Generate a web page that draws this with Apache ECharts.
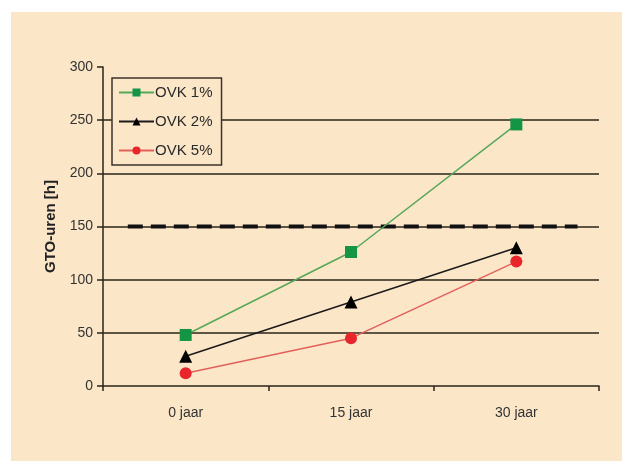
<!DOCTYPE html>
<html><head><meta charset="utf-8">
<script src="https://cdn.jsdelivr.net/npm/echarts@6/dist/echarts.min.js"></script>
<style>
html,body{margin:0;padding:0;background:#fff;}
#bg{position:absolute;left:11px;top:12px;width:611px;height:449px;background:#fce6c8;}
#c{position:absolute;left:0;top:0;width:627px;height:463px;}
</style></head>
<body><div id="bg"></div><div id="c"></div>
<script>
var categories = ['0 jaar', '15 jaar', '30 jaar'];
var ovk1 = [48, 126, 246];
var ovk2 = [28, 79, 130];
var ovk5 = [12, 45, 117];
var refX = [0.15, 2.87];
var refY = [150, 150];
var yTicks = [0, 50, 100, 150, 200, 250, 300];

var chart = echarts.init(document.getElementById('c'), null, {renderer: 'canvas'});
var dark = '#2a2419';
chart.setOption({
  backgroundColor: 'transparent',
  animation: false,
  grid: {left: 103, right: 28, top: 67, bottom: 77},
  legend: {
    orient: 'vertical', left: 112, top: 78,
    padding: [7, 9, 7, 6],
    itemWidth: 35, itemHeight: 10, itemGap: 14,
    borderColor: '#3a3328', borderWidth: 1.5,
    backgroundColor: '#fce6c8',
    textStyle: {fontFamily: 'Liberation Sans, Arial', fontSize: 15, color: '#2a2a2a', padding: [0,0,0,-4]},
    data: ['OVK 1%', 'OVK 2%', 'OVK 5%']
  },
  xAxis: [{
    type: 'category', data: categories, boundaryGap: true,
    axisLine: {lineStyle: {color: dark, width: 1.5}},
    axisTick: {show: true, length: 5, lineStyle: {color: dark, width: 1.5}},
    axisLabel: {fontFamily: 'Liberation Sans, Arial', fontSize: 14, color: '#333', margin: 20}
  }, {
    type: 'value', min: 0, max: 3, show: false
  }],
  yAxis: {
    type: 'value', min: 0, max: 300, interval: 50,
    name: 'GTO-uren [h]', nameLocation: 'middle', nameGap: 45,
    nameTextStyle: {fontFamily: 'Liberation Sans, Arial', fontWeight: 'bold', fontSize: 15, color: '#222'},
    axisLine: {show: true, lineStyle: {color: dark, width: 1.5}},
    axisTick: {show: true, length: 6, lineStyle: {color: dark, width: 1.5}},
    axisLabel: {fontFamily: 'Liberation Sans, Arial', fontSize: 14, color: '#333', margin: 10,
      formatter: function(v){ return yTicks.indexOf(v) >= 0 ? String(v) : ''; }},
    splitLine: {show: true, lineStyle: {color: dark, width: 1.5},
      showMinLine: false, showMaxLine: false}
  },
  series: [{
    name: 'ref', type: 'line', xAxisIndex: 1,
    data: refX.map(function(x, i){ return [x, refY[i]]; }),
    symbol: 'none', silent: true,
    lineStyle: {color: '#111', width: 4, type: [15, 8]}, z: 3
  }, {
    name: 'OVK 1%', type: 'line', data: ovk1,
    symbol: 'rect', symbolSize: 12,
    itemStyle: {color: '#139545'},
    lineStyle: {color: '#55a85a', width: 1.5}, z: 5
  }, {
    name: 'OVK 2%', type: 'line', data: ovk2,
    symbol: 'triangle', symbolSize: 13,
    itemStyle: {color: '#000'},
    lineStyle: {color: '#1a1a1a', width: 1.5}, z: 5
  }, {
    name: 'OVK 5%', type: 'line', data: ovk5,
    symbol: 'circle', symbolSize: 12,
    itemStyle: {color: '#e8252b'},
    lineStyle: {color: '#e2605a', width: 1.5}, z: 5
  }]
});
</script></body></html>
